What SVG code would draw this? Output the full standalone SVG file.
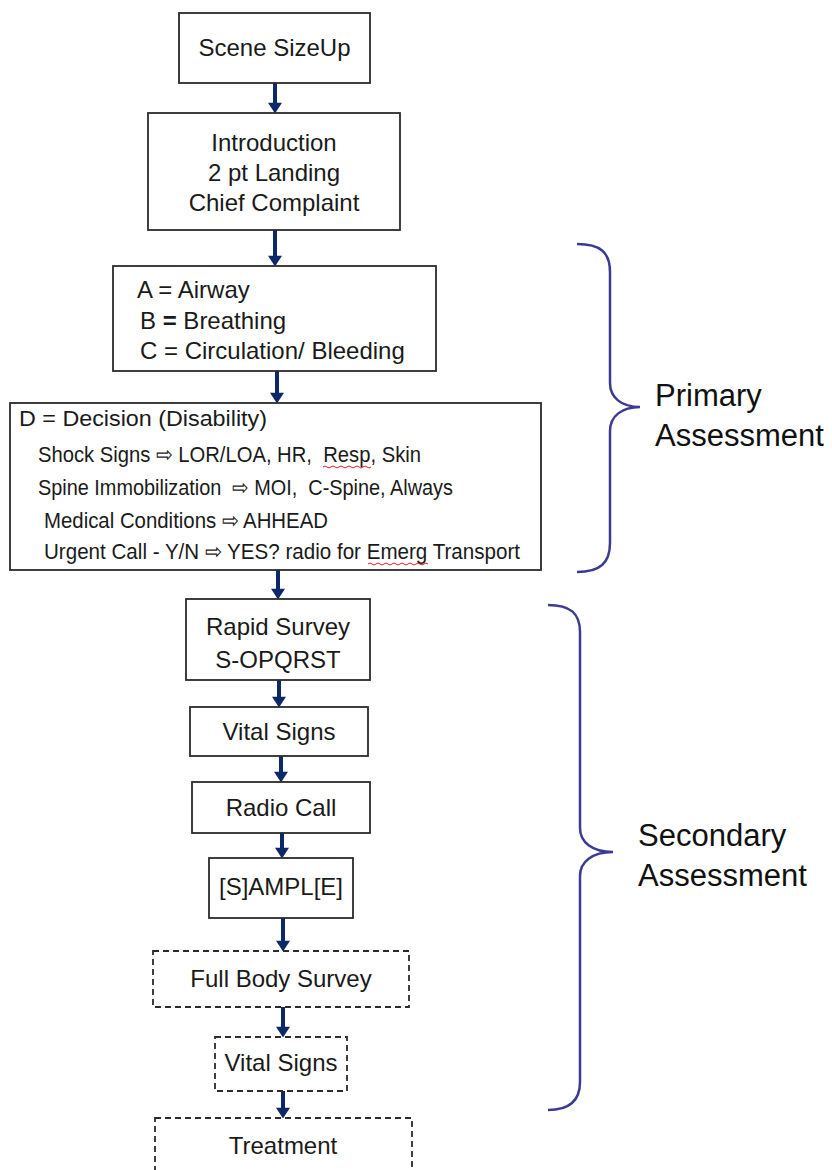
<svg xmlns="http://www.w3.org/2000/svg" width="832" height="1170" viewBox="0 0 832 1170">
<defs>
<style>
.box{fill:#fff;stroke:#2b2b2b;stroke-width:1.8}
.dash{fill:#fff;stroke:#2b2b2b;stroke-width:1.8;stroke-dasharray:6 4}
.t{font-family:"Liberation Sans",Arial,sans-serif;font-size:24px;fill:#1a1a1a}
.c{text-anchor:middle}
.d{font-family:"Liberation Sans",Arial,sans-serif;font-size:22px;fill:#1a1a1a}
.lbl{font-family:"Liberation Sans",Arial,sans-serif;font-size:31px;fill:#111}
.arr{stroke:#0d2869;stroke-width:4;fill:none;marker-end:url(#ah)}
.brace{fill:none;stroke:#3b3b94;stroke-width:2.5}
.sq{fill:none;stroke:#e02020;stroke-width:1}
</style>
<marker id="ah" markerUnits="userSpaceOnUse" markerWidth="14" markerHeight="14" refX="2" refY="6.5" orient="auto" viewBox="0 0 10 13">
<path d="M0,0 L10,6.5 L0,13 z" fill="#0d2869"/>
</marker>
</defs>
<rect width="832" height="1170" fill="#fff"/>

<g id="connectors">
<path class="arr" d="M275,83 V105"/>
<path class="arr" d="M275,230 V258"/>
<path class="arr" d="M277,371 V395"/>
<path class="arr" d="M278,570 V591"/>
<path class="arr" d="M279,680 V699"/>
<path class="arr" d="M281,756 V774"/>
<path class="arr" d="M282,833 V850"/>
<path class="arr" d="M283,918 V943"/>
<path class="arr" d="M283,1007 V1029"/>
<path class="arr" d="M283,1091 V1110"/>
</g>

<g id="scene-sizeup">
<rect class="box" x="179" y="13" width="191" height="70"/>
<text class="t c" x="274.5" y="56">Scene SizeUp</text>
</g>

<g id="introduction">
<rect class="box" x="148" y="113" width="252" height="117"/>
<text class="t c" x="274" y="151">Introduction</text>
<text class="t c" x="274" y="181">2 pt Landing</text>
<text class="t c" x="274" y="211">Chief Complaint</text>
</g>

<g id="abc">
<rect class="box" x="113" y="266" width="323" height="105"/>
<text class="t" x="137" y="298">A = Airway</text>
<text class="t" x="140" y="329">B <tspan font-weight="bold">=</tspan> Breathing</text>
<text class="t" x="140" y="359">C = Circulation/ Bleeding</text>
</g>

<g id="decision">
<rect class="box" x="10" y="403" width="531" height="167"/>
<text class="d" x="19" y="426" textLength="248" lengthAdjust="spacingAndGlyphs">D = Decision (Disability)</text>
<text class="d" x="38" y="462" textLength="383" lengthAdjust="spacingAndGlyphs" xml:space="preserve">Shock Signs ⇨ LOR/LOA, HR,  Resp, Skin</text>
<text class="d" x="38" y="495" textLength="415" lengthAdjust="spacingAndGlyphs" xml:space="preserve">Spine Immobilization  ⇨ MOI,  C-Spine, Always</text>
<text class="d" x="44" y="528" textLength="284" lengthAdjust="spacingAndGlyphs">Medical Conditions ⇨ AHHEAD</text>
<text class="d" x="44" y="559" textLength="476" lengthAdjust="spacingAndGlyphs">Urgent Call - Y/N ⇨ YES? radio for Emerg Transport</text>
<path class="sq" d="M323,467 q2,-2 4,0 t4,0 t4,0 t4,0 t4,0 t4,0 t4,0 t4,0 t4,0 t4,0 t4,0 t4,0"/>
<path class="sq" d="M368,564 q2,-2 4,0 t4,0 t4,0 t4,0 t4,0 t4,0 t4,0 t4,0 t4,0 t4,0 t4,0 t4,0 t4,0 t4,0 t4,0"/>
</g>

<g id="rapid-survey">
<rect class="box" x="186" y="599" width="184" height="81"/>
<text class="t c" x="278" y="635">Rapid Survey</text>
<text class="t c" x="278" y="668">S-OPQRST</text>
</g>

<g id="vital-signs-1">
<rect class="box" x="190" y="707" width="178" height="49"/>
<text class="t c" x="279" y="740">Vital Signs</text>
</g>

<g id="radio-call">
<rect class="box" x="192" y="782" width="178" height="51"/>
<text class="t c" x="281" y="816">Radio Call</text>
</g>

<g id="sample">
<rect class="box" x="209" y="858" width="144" height="60"/>
<text class="t c" x="281" y="895">[S]AMPL[E]</text>
</g>

<g id="full-body-survey">
<rect class="dash" x="153" y="951" width="256" height="56"/>
<text class="t c" x="281" y="987">Full Body Survey</text>
</g>

<g id="vital-signs-2">
<rect class="dash" x="215" y="1037" width="132" height="54"/>
<text class="t c" x="281" y="1071">Vital Signs</text>
</g>

<g id="treatment">
<rect class="dash" x="155" y="1118" width="257" height="70"/>
<text class="t c" x="283" y="1154">Treatment</text>
</g>

<g id="primary-brace">
<path class="brace" d="M577,244 C600,244 610,252 610,272 V383 C610,398 622,407 640,407 C622,407 610,416 610,431 V543 C610,563 600,572 577,572"/>
<text class="lbl" x="655" y="406">Primary</text>
<text class="lbl" x="655" y="446">Assessment</text>
</g>

<g id="secondary-brace">
<path class="brace" d="M548,605 C570,605 580,613 580,632 V828 C580,842 592,852 613,852 C592,852 580,862 580,876 V1082 C580,1100 570,1110 548,1110"/>
<text class="lbl" x="638" y="846">Secondary</text>
<text class="lbl" x="638" y="886">Assessment</text>
</g>
</svg>
